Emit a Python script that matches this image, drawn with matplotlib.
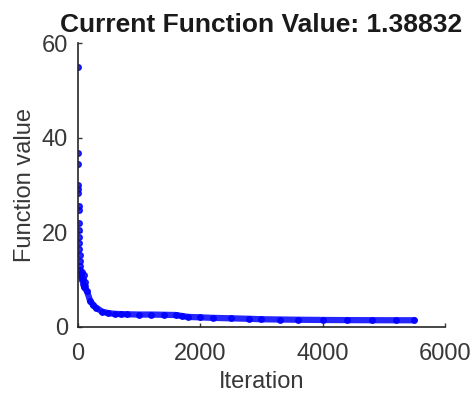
import matplotlib.pyplot as plt

# early iterations: scattered points along the left edge
early_iter = [0, 2, 4, 6, 8, 10, 12, 14, 16, 18, 20, 22, 25, 28, 30, 35, 40, 45, 50, 60, 70, 80, 90, 100, 110, 120]
early_val = [54.9, 36.8, 34.5, 30.0, 29.2, 28.3, 25.5, 24.8, 22.0, 20.5, 19.0, 17.8, 16.5, 15.2, 14.0,
             12.8, 12.0, 11.2, 10.5, 9.8, 11.5, 10.2, 9.0, 11.0, 9.5, 8.6]

# later iterations: dense band of points
tail_iter = [100, 150, 200, 250, 300, 400, 500, 600, 700, 800, 1000, 1200, 1400, 1600, 1700, 1800,
             2000, 2200, 2500, 2800, 3000, 3300, 3600, 4000, 4400, 4800, 5200, 5500]
tail_val = [8.5, 7.5, 5.5, 4.6, 4.0, 3.2, 2.9, 2.75, 2.7, 2.65, 2.6, 2.6, 2.55, 2.5, 2.3, 2.1,
            2.0, 1.9, 1.8, 1.7, 1.6, 1.55, 1.5, 1.45, 1.42, 1.4, 1.39, 1.38832]

xticks = [0, 2000, 4000, 6000]
yticks = [0, 20, 40, 60]

plt.rcParams['font.family'] = ['Liberation Sans', 'DejaVu Sans']
grey = '#383838'
blue = '#0000ff'

fig = plt.figure(figsize=(4.72, 4.03), dpi=100)
ax = fig.add_axes([0.165, 0.189, 0.778, 0.704])

ax.plot(tail_iter, tail_val, color=blue, lw=4.5, marker='.', ms=8, mec=blue, solid_capstyle='round', alpha=0.85)
ax.plot(early_iter, early_val, color=blue, ls='none', marker='.', ms=8, mec=blue, alpha=0.85)

ax.set_xlim(0, 6000)
ax.set_ylim(0, 60)
ax.set_xticks(xticks)
ax.set_yticks(yticks)

for s in ['top', 'right']:
  ax.spines[s].set_visible(False)
for s in ['left', 'bottom']:
  ax.spines[s].set_color('#262626')
  ax.spines[s].set_linewidth(1.2)

ax.tick_params(direction='in', length=3, width=1, colors=grey, labelsize=17)
ax.tick_params(axis='x', pad=12)
ax.tick_params(axis='y', pad=7)
ax.set_xlabel('Iteration', fontsize=17, color=grey, labelpad=4)
ax.set_ylabel('Function value', fontsize=17, color=grey, labelpad=4)
ax.set_title('Current Function Value: 1.38832', fontsize=19, fontweight='bold', color='#1a1a1a', pad=8)

fig.savefig('out.png', dpi=100)
